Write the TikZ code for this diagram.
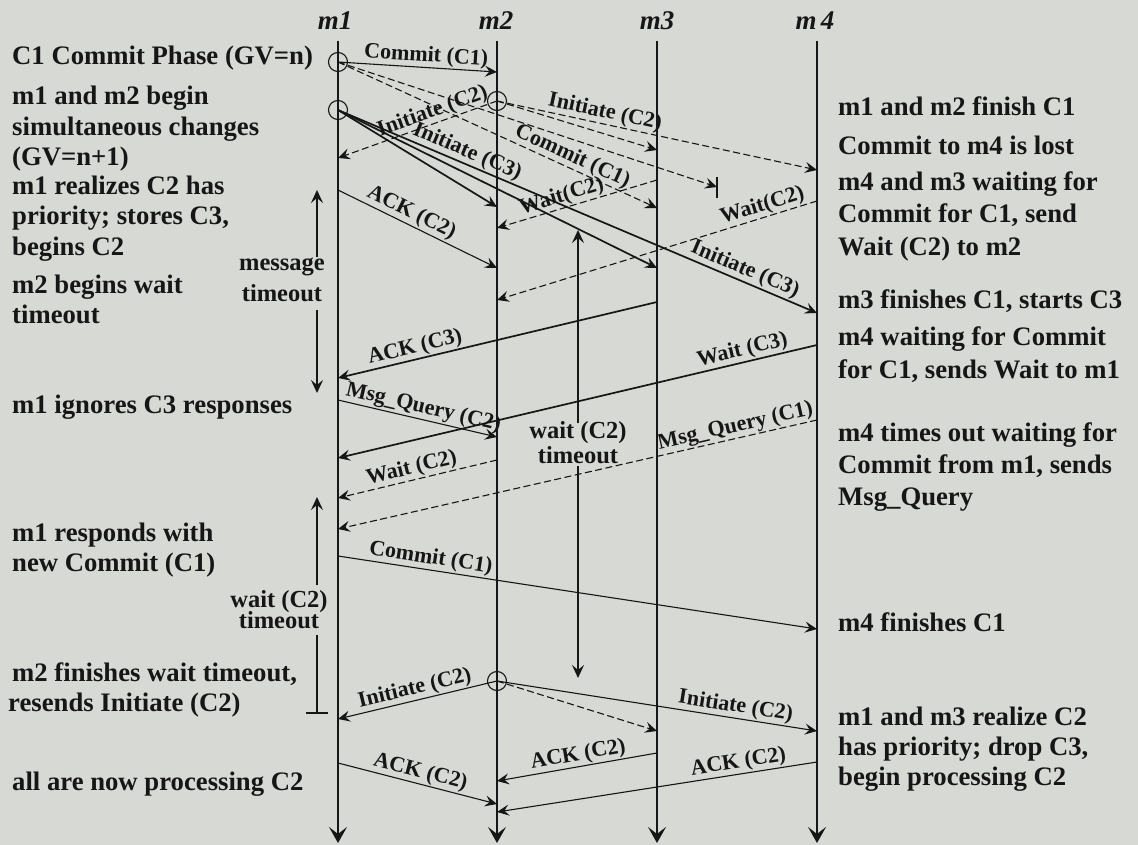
\documentclass[tikz,border=0pt]{standalone}
\usepackage{fontspec}
\setmainfont{Liberation Serif}
\usetikzlibrary{arrows.meta}
\definecolor{bg}{RGB}{215,217,212}
\definecolor{ink}{RGB}{22,22,22}
\newcommand{\sidefont}{\fontsize{26.7}{30}\selectfont\bfseries}
\newcommand{\lblfont}{\fontsize{22}{23}\selectfont\bfseries}
\newcommand{\tofont}{\fontsize{24.5}{24}\selectfont\bfseries}
\newcommand{\hdfont}{\fontsize{27}{30}\selectfont\bfseries\itshape}
\begin{document}
\begin{tikzpicture}[x=1pt,y=-1pt,
  sidetxt/.style={anchor=base west, inner sep=0pt, font=\sidefont, text=ink},
  hd/.style={anchor=base, inner sep=0pt, font=\hdfont, text=ink},
  lbl/.style={font=\lblfont, text=ink, inner sep=1pt, sloped, above},
  msg/.style={draw=ink, line width=1.1pt, -{Stealth[length=12pt,width=11pt,inset=4.5pt]}},
  heavy/.style={line width=1.7pt},
  dsh/.style={dash pattern=on 7pt off 3.5pt},
  life/.style={draw=ink, line width=1.5pt, -{Stealth[length=16pt,width=18pt,inset=7pt]}},
  vt/.style={draw=ink, line width=1.4pt, -{Stealth[length=13pt,width=12pt,inset=5pt]}},
  ev/.style={circle, draw=ink, line width=1.1pt, minimum size=19pt, inner sep=0pt},
  tolbl/.style={font=\tofont, text=ink, inner sep=0pt, anchor=center}
]
\fill[bg] (0,0) rectangle (1138,845);
\useasboundingbox (0,0) rectangle (1138,845);

% headers
\node[hd] (h1) at (335,30) {m1};
\node[hd] (h2) at (496,30) {m2};
\node[hd] (h3) at (657,30) {m3};
\node[hd] (h4) at (815,30) {m\,4};

% lifelines
\coordinate (t1) at (338,41); \coordinate (b1) at (338,843);
\coordinate (t2) at (497,41); \coordinate (b2) at (497,843);
\coordinate (t3) at (657,41); \coordinate (b3) at (657,843);
\coordinate (t4) at (817,41); \coordinate (b4) at (817,843);
\draw[life] (t1) -- (b1);
\draw[life] (t2) -- (b2);
\draw[life] (t3) -- (b3);
\draw[life] (t4) -- (b4);

% event circles
\node[ev] (e1) at (338,62) {};
\node[ev] (e2) at (338,110) {};
\node[ev] (e3) at (497,101) {};
\node[ev] (e4) at (497,681) {};

% end points
\coordinate (m2a) at (497,72);
\coordinate (m3a) at (657,208);
\coordinate (lost) at (717,187);
\coordinate (lostT) at (717,177); \coordinate (lostB) at (717,198);
\coordinate (m1a) at (338,158);
\coordinate (m3b) at (657,150);
\coordinate (m4a) at (817,170);
\coordinate (m2b) at (497,207);
\coordinate (m3c) at (657,268);
\coordinate (m4b) at (817,313);
\coordinate (m1b) at (338,190); \coordinate (m2c) at (497,268);
\coordinate (m3d) at (657,180); \coordinate (m2d) at (497,228);
\coordinate (m4c) at (817,201); \coordinate (m2e) at (497,300);
\coordinate (m3e) at (657,302); \coordinate (m1c) at (338,378);
\coordinate (m4d) at (817,345); \coordinate (m1d) at (338,458);
\coordinate (m1e) at (338,400); \coordinate (m2f) at (497,437);
\coordinate (m2g) at (497,460); \coordinate (m1f) at (338,498);
\coordinate (m4e) at (817,420); \coordinate (m1g) at (338,529);
\coordinate (m1h) at (338,556); \coordinate (m4f) at (817,629);
\coordinate (m1i) at (338,719); \coordinate (m3f) at (657,731); \coordinate (m4g) at (817,731);
\coordinate (m1j) at (338,763); \coordinate (m2h) at (497,804);
\coordinate (m3g) at (657,753); \coordinate (m2i) at (497,781);
\coordinate (m4h) at (817,762); \coordinate (m2j) at (497,812);

% C1 commit
\draw[msg] (e1.center) -- node[lbl,pos=0.55] {Commit (C1)} (m2a);
\draw[msg,dsh] (e1.center) -- node[lbl,pos=0.72] {Commit (C1)} (m3a);
\draw[msg,dsh] (e1.center) -- (lost);
\draw[draw=ink, line width=2.2pt] (lostT) -- (lostB);

% Initiate C2 from m2
\draw[msg,dsh] (e3.center) -- node[lbl,pos=0.38] {Initiate (C2)} (m1a);
\draw[msg,dsh] (e3.center) -- (m3b);
\draw[msg,dsh] (e3.center) -- node[lbl,pos=0.33] {Initiate (C2)} (m4a);

% Initiate C3 from m1
\draw[msg,heavy] (e2.center) -- (m2b);
\draw[msg,heavy] (e2.center) -- (m3c);
\draw[msg,heavy] (e2.center) -- node[lbl,pos=0.26] {Initiate (C3)} node[lbl,pos=0.84] {Initiate (C3)} (m4b);

% replies
\draw[msg] (m1b) -- node[lbl,pos=0.43] {ACK (C2)} (m2c);
\draw[msg,dsh] (m3d) -- node[lbl,pos=0.575] {Wait(C2)} (m2d);
\draw[msg,dsh] (m4c) -- node[lbl,pos=0.16] {Wait(C2)} (m2e);
\draw[msg,heavy] (m3e) -- node[lbl,pos=0.75] {ACK (C3)} (m1c);
\draw[msg,heavy] (m4d) -- node[lbl,pos=0.15] {Wait (C3)} (m1d);
\draw[msg] (m1e) -- node[lbl,pos=0.52] {Msg\_Query (C2)} (m2f);
\draw[msg,dsh] (m2g) -- node[lbl,pos=0.52] {Wait (C2)} (m1f);
\draw[msg,dsh] (m4e) -- node[lbl,pos=0.165] {Msg\_Query (C1)} (m1g);
\draw[msg] (m1h) -- node[lbl,pos=0.19] {Commit (C1)} (m4f);

% resend Initiate C2
\draw[msg] (e4.center) -- node[lbl,pos=0.5] {Initiate (C2)} (m1i);
\draw[msg,dsh] (e4.center) -- (m3f);
\draw[msg] (e4.center) -- node[lbl,pos=0.74] {Initiate (C2)} (m4g);

% final ACKs
\draw[msg] (m1j) -- node[lbl,pos=0.5] {ACK (C2)} (m2h);
\draw[msg] (m3g) -- node[lbl,pos=0.48] {ACK (C2)} (m2i);
\draw[msg] (m4h) -- node[lbl,pos=0.24] {ACK (C2)} (m2j);

% message timeout (left)
\node[tolbl] (mt1) at (282,267) {message};
\node[tolbl] (mt2) at (282,293) {timeout};
\coordinate (mtU) at (317,190); \coordinate (mtUs) at (317,257);
\coordinate (mtD) at (317,393); \coordinate (mtDs) at (317,310);
\draw[vt] (mtUs) -- (mtU);
\draw[vt] (mtDs) -- (mtD);

% wait (C2) timeout (left)
\node[tolbl] (wl1) at (279,602) {wait (C2)};
\node[tolbl] (wl2) at (279,620) {timeout};
\coordinate (wlU) at (317,497); \coordinate (wlUs) at (317,585);
\coordinate (wlDs) at (317,635); \coordinate (wlD) at (317,713);
\coordinate (wlBa) at (306,713); \coordinate (wlBb) at (328,713);
\draw[vt] (wlUs) -- (wlU);
\draw[draw=ink, line width=1.4pt] (wlDs) -- (wlD);
\draw[draw=ink, line width=1.2pt] (wlBa) -- (wlBb);

% wait (C2) timeout (middle)
\node[tolbl] (wm1) at (578,433) {wait (C2)};
\node[tolbl] (wm2) at (578,455) {timeout};
\coordinate (wmU) at (578,230); \coordinate (wmUs) at (578,423);
\coordinate (wmD) at (578,678); \coordinate (wmDs) at (578,466);
\draw[vt] (wmUs) -- (wmU);
\draw[vt] (wmDs) -- (wmD);

% left notes
\node[sidetxt] (l1) at (12,65) {C1 Commit Phase (GV=n)};
\node[sidetxt] (l2) at (12,105) {m1 and m2 begin};
\node[sidetxt] (l3) at (12,136) {simultaneous changes};
\node[sidetxt] (l4) at (12,166) {(GV=n+1)};
\node[sidetxt] (l5) at (12,195) {m1 realizes C2 has};
\node[sidetxt] (l6) at (12,225) {priority; stores C3,};
\node[sidetxt] (l7) at (12,255) {begins C2};
\node[sidetxt] (l8) at (12,293) {m2 begins wait};
\node[sidetxt] (l9) at (12,323) {timeout};
\node[sidetxt] (l10) at (12,413) {m1 ignores C3 responses};
\node[sidetxt] (l11) at (12,541) {m1 responds with};
\node[sidetxt] (l12) at (12,571) {new Commit (C1)};
\node[sidetxt] (l13) at (12,681) {m2 finishes wait timeout,};
\node[sidetxt] (l14) at (8,711) {resends Initiate (C2)};
\node[sidetxt] (l15) at (12,790) {all are now processing C2};

% right notes
\node[sidetxt] (r1) at (838,116) {m1 and m2 finish C1};
\node[sidetxt] (r2) at (838,155) {Commit to m4 is lost};
\node[sidetxt] (r3) at (838,191) {m4 and m3 waiting for};
\node[sidetxt] (r4) at (838,223) {Commit for C1, send};
\node[sidetxt] (r5) at (838,255) {Wait (C2) to m2};
\node[sidetxt] (r6) at (838,308) {m3 finishes C1, starts C3};
\node[sidetxt] (r7) at (838,345) {m4 waiting for Commit};
\node[sidetxt] (r8) at (838,378) {for C1, sends Wait to m1};
\node[sidetxt] (r9) at (838,441) {m4 times out waiting for};
\node[sidetxt] (r10) at (838,473) {Commit from m1, sends};
\node[sidetxt] (r11) at (838,505) {Msg\_Query};
\node[sidetxt] (r12) at (838,631) {m4 finishes C1};
\node[sidetxt] (r13) at (838,725) {m1 and m3 realize C2};
\node[sidetxt] (r14) at (838,755) {has priority; drop C3,};
\node[sidetxt] (r15) at (838,785) {begin processing C2};
\end{tikzpicture}
\end{document}
